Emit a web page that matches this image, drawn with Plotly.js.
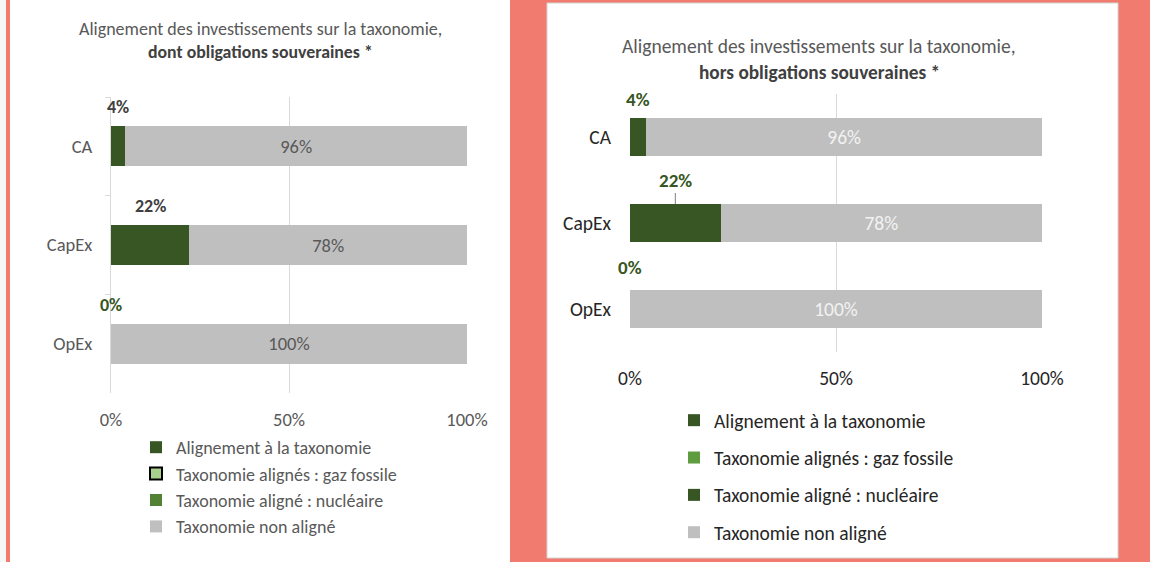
<!DOCTYPE html>
<html>
<head>
<meta charset="utf-8">
<script src="https://cdn.plot.ly/plotly-3.0.1.min.js"></script>
<style>html,body{margin:0;padding:0;background:#f27b70;}</style>
</head>
<body>
<div id="chart" style="width:1150px;height:562px;"></div>
<script>
// ---- data ----
const categories = ['CA', 'CapEx', 'OpEx'];
const seriesNames = ['Alignement à la taxonomie', 'Taxonomie alignés : gaz fossile', 'Taxonomie aligné : nucléaire', 'Taxonomie non aligné'];
const leftAligned = [4, 22, 0];
const leftGaz = [0, 0, 0];
const leftNuc = [0, 0, 0];
const leftNon = [96, 78, 100];
const rightAligned = [4, 22, 0];
const rightGaz = [0, 0, 0];
const rightNuc = [0, 0, 0];
const rightNon = [96, 78, 100];
const xTickVals = [0, 50, 100];
const xTickText = ['0%', '50%', '100%'];
const titleLine1 = 'Alignement des investissements sur la taxonomie,';
const leftTitle2 = 'dont obligations souveraines *';
const rightTitle2 = 'hors obligations souveraines *';

// ---- styles ----
const FONT = 'Carlito, Lato, "Open Sans", sans-serif';
const W = 1150, H = 562;
const px = v => v / W, py = v => 1 - v / H;
const DARK = '#375623';
const GREY = '#bfbfbf';
const leftColors = [DARK, '#a9d18e', '#548235', GREY];
const rightColors = [DARK, '#5e9c3f', DARK, GREY];
const pct = v => v + '%';

function makeTraces(vals, colors, xa, ya, leg, inTextColor, inTextSize, barW, group) {
  return vals.map((v, i) => {
    const t = {
      type: 'bar', orientation: 'h', x: v, y: categories, name: seriesNames[i],
      xaxis: xa, yaxis: ya, legend: leg, legendgroup: group + i, legendrank: i + 1, width: barW,
      marker: {color: colors[i], line: {width: 0}},
      hoverinfo: 'skip'
    };
    if (group === 'L' && i === 1) {
      // outlined legend key; zero-size bars pushed out of the clipped plot area so no outline shows
      t.marker.line = {color: '#000000', width: 2};
      t.offset = 10;
    }
    if (i === 3) {
      t.text = v.map(pct);
      t.textposition = 'inside';
      t.insidetextanchor = 'middle';
      t.textangle = 0;
      t.textfont = {family: FONT, size: inTextSize, color: inTextColor};
    }
    return t;
  });
}

const traces = [].concat(
  makeTraces([leftAligned, leftGaz, leftNuc, leftNon], leftColors, 'x', 'y', 'legend', '#595959', 18.5, 0.405, 'L'),
  makeTraces([rightAligned, rightGaz, rightNuc, rightNon], rightColors, 'x2', 'y2', 'legend2', '#f2f2f2', 19.5, 0.44, 'R')
);

const annotations = [];
// titles (one annotation per line for exact line spacing)
function titleAnn(x, y, text, size, color) {
  return {xref: 'paper', yref: 'paper', x: px(x), y: py(y), xanchor: 'center', yanchor: 'middle',
    showarrow: false, text: text, font: {family: FONT, size: size, color: color}};
}
annotations.push(titleAnn(260, 29, titleLine1, 18, '#595959'));
annotations.push(titleAnn(260, 52, '<b>' + leftTitle2 + '</b>', 17.8, '#404040'));
annotations.push(titleAnn(819, 46, titleLine1, 19.5, '#595959'));
annotations.push(titleAnn(819, 72, '<b>' + rightTitle2 + '</b>', 19.3, '#404040'));

// outside labels for aligned series
const leftLabelColors = ['#404040', '#404040', DARK];
leftAligned.forEach((v, i) => {
  annotations.push({
    xref: 'x', yref: 'y', x: v / 2, y: categories[i], yshift: 39, showarrow: false,
    text: '<b>' + pct(v) + '</b>', xanchor: 'center', yanchor: 'middle',
    font: {family: FONT, size: 18, color: leftLabelColors[i]}
  });
});
rightAligned.forEach((v, i) => {
  const a = {
    xref: 'x2', yref: 'y2', x: v / 2, y: categories[i], showarrow: false,
    text: '<b>' + pct(v) + '</b>', xanchor: 'center', yanchor: 'middle',
    font: {family: FONT, size: 19, color: DARK}
  };
  if (i === 1) {
    Object.assign(a, {showarrow: true, arrowhead: 0, arrowwidth: 1, arrowcolor: '#7f7f7f', ax: 0, ay: -24, yshift: 19, standoff: 0});
  } else {
    a.yshift = i === 0 ? 38 : 42;
  }
  annotations.push(a);
});

const shapes = [
  {type: 'rect', xref: 'paper', yref: 'paper', x0: 0, x1: px(6), y0: 0, y1: 1, fillcolor: '#f7f7f7', line: {width: 0}, layer: 'below'},
  {type: 'rect', xref: 'paper', yref: 'paper', x0: px(10), x1: px(510), y0: 0, y1: 1, fillcolor: '#ffffff', line: {width: 0}, layer: 'below'},
  {type: 'rect', xref: 'paper', yref: 'paper', x0: px(547), x1: px(1118), y0: py(558), y1: py(3), fillcolor: '#ffffff', line: {color: '#d4d4d4', width: 1}, layer: 'below'}
];

const layout = {
  width: W, height: H,
  margin: {l: 0, r: 0, t: 0, b: 0},
  paper_bgcolor: '#f27b70', plot_bgcolor: 'rgba(0,0,0,0)',
  barmode: 'stack',
  font: {family: FONT},
  xaxis: {
    domain: [px(111), px(467)], anchor: 'y', range: [0, 100], tickvals: xTickVals, ticktext: xTickText,
    showgrid: true, gridcolor: '#d9d9d9', gridwidth: 1, zeroline: false, showline: false, ticks: '',
    tickfont: {family: FONT, size: 18.5, color: '#595959'}, ticklabelstandoff: 13, fixedrange: true
  },
  yaxis: {
    domain: [py(393), py(97)], anchor: 'x', type: 'category', categoryorder: 'array', categoryarray: categories,
    range: [2.5, -0.5], autorange: false, showgrid: false, zeroline: false, showline: true, linecolor: '#d9d9d9', linewidth: 1,
    ticks: 'outside', tickson: 'boundaries', ticklen: 5, tickcolor: '#d9d9d9',
    tickfont: {family: FONT, size: 18.5, color: '#595959'}, ticklabelstandoff: 14, fixedrange: true
  },
  xaxis2: {
    domain: [px(630), px(1042)], anchor: 'y2', range: [0, 100], tickvals: xTickVals, ticktext: xTickText,
    showgrid: true, gridcolor: '#d9d9d9', gridwidth: 1, zeroline: false, showline: false, ticks: '',
    tickfont: {family: FONT, size: 19.5, color: '#262626'}, ticklabelstandoff: 12, fixedrange: true
  },
  yaxis2: {
    domain: [py(352), py(94)], anchor: 'x2', type: 'category', categoryorder: 'array', categoryarray: categories,
    range: [2.5, -0.5], autorange: false, showgrid: false, zeroline: false, showline: false, ticks: '',
    tickfont: {family: FONT, size: 19.5, color: '#262626'}, ticklabelstandoff: 18, fixedrange: true
  },
  legend: {
    x: px(136), y: py(429), xanchor: 'left', yanchor: 'top', bgcolor: 'rgba(0,0,0,0)',
    font: {family: FONT, size: 18, color: '#595959'}, traceorder: 'grouped', tracegroupgap: 0,
    itemclick: false, itemdoubleclick: false
  },
  legend2: {
    x: px(674), y: py(401), xanchor: 'left', yanchor: 'top', bgcolor: 'rgba(0,0,0,0)',
    font: {family: FONT, size: 19.5, color: '#262626'}, traceorder: 'grouped', tracegroupgap: 9,
    itemclick: false, itemdoubleclick: false
  },
  annotations: annotations,
  shapes: shapes,
  showlegend: true
};

Plotly.newPlot('chart', traces, layout, {displayModeBar: false, staticPlot: true});
</script>
</body>
</html>
